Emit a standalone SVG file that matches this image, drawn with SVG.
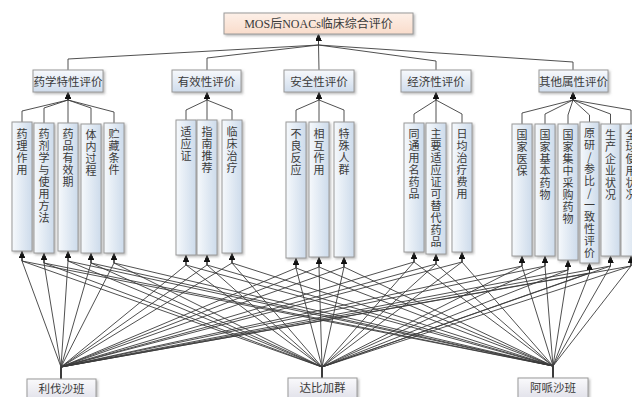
<svg xmlns="http://www.w3.org/2000/svg" width="632" height="397" viewBox="0 0 632 397">
<defs>
<linearGradient id="gTop" x1="0" y1="0" x2="0" y2="1"><stop offset="0" stop-color="#fdf0e8"/><stop offset="1" stop-color="#f9dccb"/></linearGradient>
<linearGradient id="gCat" x1="0" y1="0" x2="0" y2="1"><stop offset="0" stop-color="#f7f9fc"/><stop offset="1" stop-color="#cfdcec"/></linearGradient>
<linearGradient id="gLeaf" x1="0" y1="0" x2="1" y2="0"><stop offset="0" stop-color="#f6f9fc"/><stop offset="1" stop-color="#cddbeb"/></linearGradient>
<linearGradient id="gSrc" x1="0" y1="0" x2="0" y2="1"><stop offset="0" stop-color="#fafafc"/><stop offset="1" stop-color="#dcdce6"/></linearGradient>
<filter id="sh" x="-20%" y="-20%" width="140%" height="140%"><feDropShadow dx="1.5" dy="1.5" stdDeviation="0.8" flood-color="#808080" flood-opacity="0.55"/></filter>
<marker id="arr" markerUnits="userSpaceOnUse" markerWidth="7" markerHeight="6" refX="7" refY="3" orient="auto"><path d="M0,0 L7,3 L0,6 z" fill="#111"/></marker>
<style>
.box{stroke:#9a9a9a;stroke-width:1;filter:url(#sh)}
.top{fill:url(#gTop)}
.cat{fill:url(#gCat)}
.leaf{fill:url(#gLeaf)}
.src{fill:url(#gSrc)}
.t{font-family:"Liberation Serif","Noto Sans CJK SC",serif;fill:#3a3a3a;text-anchor:middle}
.tt{font-size:12px}
.ct{font-size:11.5px}
.lt{font-family:"Noto Sans CJK SC",sans-serif;font-size:11px;fill:#3a3a3a;writing-mode:vertical-rl;text-orientation:upright;letter-spacing:1px}
.c{fill:none;stroke:#3c3c3c;stroke-width:0.9;marker-end:url(#arr)}
</style>
</defs>
<rect width="632" height="397" fill="#fff"/>
<g id="connectors">
<path class="c" d="M68 70 V59 L318.5 45 V34"/>
<path class="c" d="M207 70 V58 L318.5 45 V34"/>
<path class="c" d="M319 70 L318.5 45 V34"/>
<path class="c" d="M436 70 V61 L318.5 45 V34"/>
<path class="c" d="M573 70 V62 L318.5 45 V34"/>
<path class="c" d="M22 122 V111 L68 100 V92"/>
<path class="c" d="M44 123 V108 L68 100 V92"/>
<path class="c" d="M68 123 V100 V92"/>
<path class="c" d="M91 124 V108 L68 100 V92"/>
<path class="c" d="M114 123 V112 L68 100 V92"/>
<path class="c" d="M186 120 V110 L207 100 V92"/>
<path class="c" d="M207 120 V100 V92"/>
<path class="c" d="M232 120 V110 L207 100 V92"/>
<path class="c" d="M296 122 V110 L319 100 V92"/>
<path class="c" d="M319 122 V100 V92"/>
<path class="c" d="M344 122 V110 L319 100 V92"/>
<path class="c" d="M414 123 V114 L436 100 V92"/>
<path class="c" d="M436 123 V100 V92"/>
<path class="c" d="M462 123 V114 L436 100 V92"/>
<path class="c" d="M522 124 V113 L573 100 V92"/>
<path class="c" d="M545 124 V114 L573 100 V92"/>
<path class="c" d="M568 124 V115 L573 100 V92"/>
<path class="c" d="M589.5 122 V115 L573 100 V92"/>
<path class="c" d="M610.5 124 V114 L573 100 V92"/>
<path class="c" d="M631 124 V110 L573 100 V92"/>
<path class="c" d="M61 379 V367 L22 261 V251"/>
<path class="c" d="M61 379 V367 L44 263 V253"/>
<path class="c" d="M61 379 V367 L68 261 V251"/>
<path class="c" d="M61 379 V367 L91 263 V253"/>
<path class="c" d="M61 379 V367 L114 263 V253"/>
<path class="c" d="M61 379 V367 L186 265 V255"/>
<path class="c" d="M61 379 V367 L207 265 V255"/>
<path class="c" d="M61 379 V367 L232 263 V253"/>
<path class="c" d="M61 379 V367 L296 268 V258"/>
<path class="c" d="M61 379 V367 L319 267 V257"/>
<path class="c" d="M61 379 V367 L344 267 V257"/>
<path class="c" d="M61 379 V367 L414 262 V252"/>
<path class="c" d="M61 379 V367 L436 264 V254"/>
<path class="c" d="M61 379 V367 L462 262 V252"/>
<path class="c" d="M61 379 V367 L522 266 V256"/>
<path class="c" d="M61 379 V367 L545 266 V256"/>
<path class="c" d="M61 379 V367 L568 270 V260"/>
<path class="c" d="M61 379 V367 L589.5 273 V263"/>
<path class="c" d="M61 379 V367 L610.5 266 V256"/>
<path class="c" d="M61 379 V367 L631 266 V256"/>
<path class="c" d="M322 378 V367 L22 261 V251"/>
<path class="c" d="M322 378 V367 L44 263 V253"/>
<path class="c" d="M322 378 V367 L68 261 V251"/>
<path class="c" d="M322 378 V367 L91 263 V253"/>
<path class="c" d="M322 378 V367 L114 263 V253"/>
<path class="c" d="M322 378 V367 L186 265 V255"/>
<path class="c" d="M322 378 V367 L207 265 V255"/>
<path class="c" d="M322 378 V367 L232 263 V253"/>
<path class="c" d="M322 378 V367 L296 268 V258"/>
<path class="c" d="M322 378 V367 L319 267 V257"/>
<path class="c" d="M322 378 V367 L344 267 V257"/>
<path class="c" d="M322 378 V367 L414 262 V252"/>
<path class="c" d="M322 378 V367 L436 264 V254"/>
<path class="c" d="M322 378 V367 L462 262 V252"/>
<path class="c" d="M322 378 V367 L522 266 V256"/>
<path class="c" d="M322 378 V367 L545 266 V256"/>
<path class="c" d="M322 378 V367 L568 270 V260"/>
<path class="c" d="M322 378 V367 L589.5 273 V263"/>
<path class="c" d="M322 378 V367 L610.5 266 V256"/>
<path class="c" d="M322 378 V367 L631 266 V256"/>
<path class="c" d="M553 378 V366 L22 261 V251"/>
<path class="c" d="M553 378 V366 L44 263 V253"/>
<path class="c" d="M553 378 V366 L68 261 V251"/>
<path class="c" d="M553 378 V366 L91 263 V253"/>
<path class="c" d="M553 378 V366 L114 263 V253"/>
<path class="c" d="M553 378 V366 L186 265 V255"/>
<path class="c" d="M553 378 V366 L207 265 V255"/>
<path class="c" d="M553 378 V366 L232 263 V253"/>
<path class="c" d="M553 378 V366 L296 268 V258"/>
<path class="c" d="M553 378 V366 L319 267 V257"/>
<path class="c" d="M553 378 V366 L344 267 V257"/>
<path class="c" d="M553 378 V366 L414 262 V252"/>
<path class="c" d="M553 378 V366 L436 264 V254"/>
<path class="c" d="M553 378 V366 L462 262 V252"/>
<path class="c" d="M553 378 V366 L522 266 V256"/>
<path class="c" d="M553 378 V366 L545 266 V256"/>
<path class="c" d="M553 378 V366 L568 270 V260"/>
<path class="c" d="M553 378 V366 L589.5 273 V263"/>
<path class="c" d="M553 378 V366 L610.5 266 V256"/>
<path class="c" d="M553 378 V366 L631 266 V256"/>
</g>
<g id="n-top"><rect class="box top" x="224" y="13" width="189" height="21"/><text class="t tt" x="318.5" y="28">MOS后NOACs临床综合评价</text></g>
<g id="n-cat1"><rect class="box cat" x="33" y="70" width="70" height="22"/><text class="t ct" x="68" y="85.5">药学特性评价</text></g>
<g id="n-cat2"><rect class="box cat" x="172" y="70" width="69" height="22"/><text class="t ct" x="206.5" y="85.5">有效性评价</text></g>
<g id="n-cat3"><rect class="box cat" x="284" y="70" width="70" height="22"/><text class="t ct" x="319" y="85.5">安全性评价</text></g>
<g id="n-cat4"><rect class="box cat" x="401" y="70" width="70" height="22"/><text class="t ct" x="436" y="85.5">经济性评价</text></g>
<g id="n-cat5"><rect class="box cat" x="539" y="70" width="69" height="22"/><text class="t ct" x="573.5" y="85.5">其他属性评价</text></g>

<g id="n-a1"><rect class="box leaf" x="12" y="122" width="20" height="129"/><text class="lt" x="22" y="128">药理作用</text></g>
<g id="n-a2"><rect class="box leaf" x="34" y="123" width="20" height="130"/><text class="lt" x="44" y="128">药剂学与使用方法</text></g>
<g id="n-a3"><rect class="box leaf" x="58" y="123" width="20" height="128"/><text class="lt" x="68" y="128">药品有效期</text></g>
<g id="n-a4"><rect class="box leaf" x="81" y="124" width="20" height="129"/><text class="lt" x="91" y="129">体内过程</text></g>
<g id="n-a5"><rect class="box leaf" x="104" y="123" width="20" height="130"/><text class="lt" x="114" y="128">贮藏条件</text></g>

<g id="n-b1"><rect class="box leaf" x="176" y="120" width="20" height="135"/><text class="lt" x="186" y="126">适应证</text></g>
<g id="n-b2"><rect class="box leaf" x="197" y="120" width="20" height="135"/><text class="lt" x="207" y="126">指南推荐</text></g>
<g id="n-b3"><rect class="box leaf" x="222" y="120" width="20" height="133"/><text class="lt" x="232" y="126">临床治疗</text></g>

<g id="n-c1"><rect class="box leaf" x="286" y="122" width="20" height="136"/><text class="lt" x="296" y="128">不良反应</text></g>
<g id="n-c2"><rect class="box leaf" x="309" y="122" width="20" height="135"/><text class="lt" x="319" y="128">相互作用</text></g>
<g id="n-c3"><rect class="box leaf" x="334" y="122" width="20" height="135"/><text class="lt" x="344" y="128">特殊人群</text></g>

<g id="n-d1"><rect class="box leaf" x="404" y="123" width="20" height="129"/><text class="lt" x="414" y="128">同通用名药品</text></g>
<g id="n-d2"><rect class="box leaf" x="426" y="123" width="20" height="131"/><text class="lt" x="436" y="128">主要适应证可替代药品</text></g>
<g id="n-d3"><rect class="box leaf" x="452" y="123" width="20" height="129"/><text class="lt" x="462" y="128">日均治疗费用</text></g>

<g id="n-e1"><rect class="box leaf" x="512" y="124" width="20" height="132"/><text class="lt" x="522" y="129">国家医保</text></g>
<g id="n-e2"><rect class="box leaf" x="535" y="124" width="20" height="132"/><text class="lt" x="545" y="129">国家基本药物</text></g>
<g id="n-e3"><rect class="box leaf" x="558" y="124" width="20" height="136"/><text class="lt" x="568" y="129">国家集中采购药物</text></g>
<g id="n-e4"><rect class="box leaf" x="580" y="122" width="19" height="141"/><text class="lt" x="589.5" y="127">原研/参比/一致性评价</text></g>
<g id="n-e5"><rect class="box leaf" x="601" y="124" width="19" height="132"/><text class="lt" x="610.5" y="129">生产企业状况</text></g>
<g id="n-e6"><rect class="box leaf" x="621" y="124" width="20" height="132"/><text class="lt" x="631" y="129">全球使用状况</text></g>

<g id="n-riva"><rect class="box src" x="27" y="379" width="69" height="25"/><text class="t ct" x="61.5" y="393">利伐沙班</text></g>
<g id="n-dabi"><rect class="box src" x="288" y="378" width="69" height="25"/><text class="t ct" x="322.5" y="392">达比加群</text></g>
<g id="n-apix"><rect class="box src" x="518" y="378" width="70" height="25"/><text class="t ct" x="553" y="392">阿哌沙班</text></g>
</svg>
